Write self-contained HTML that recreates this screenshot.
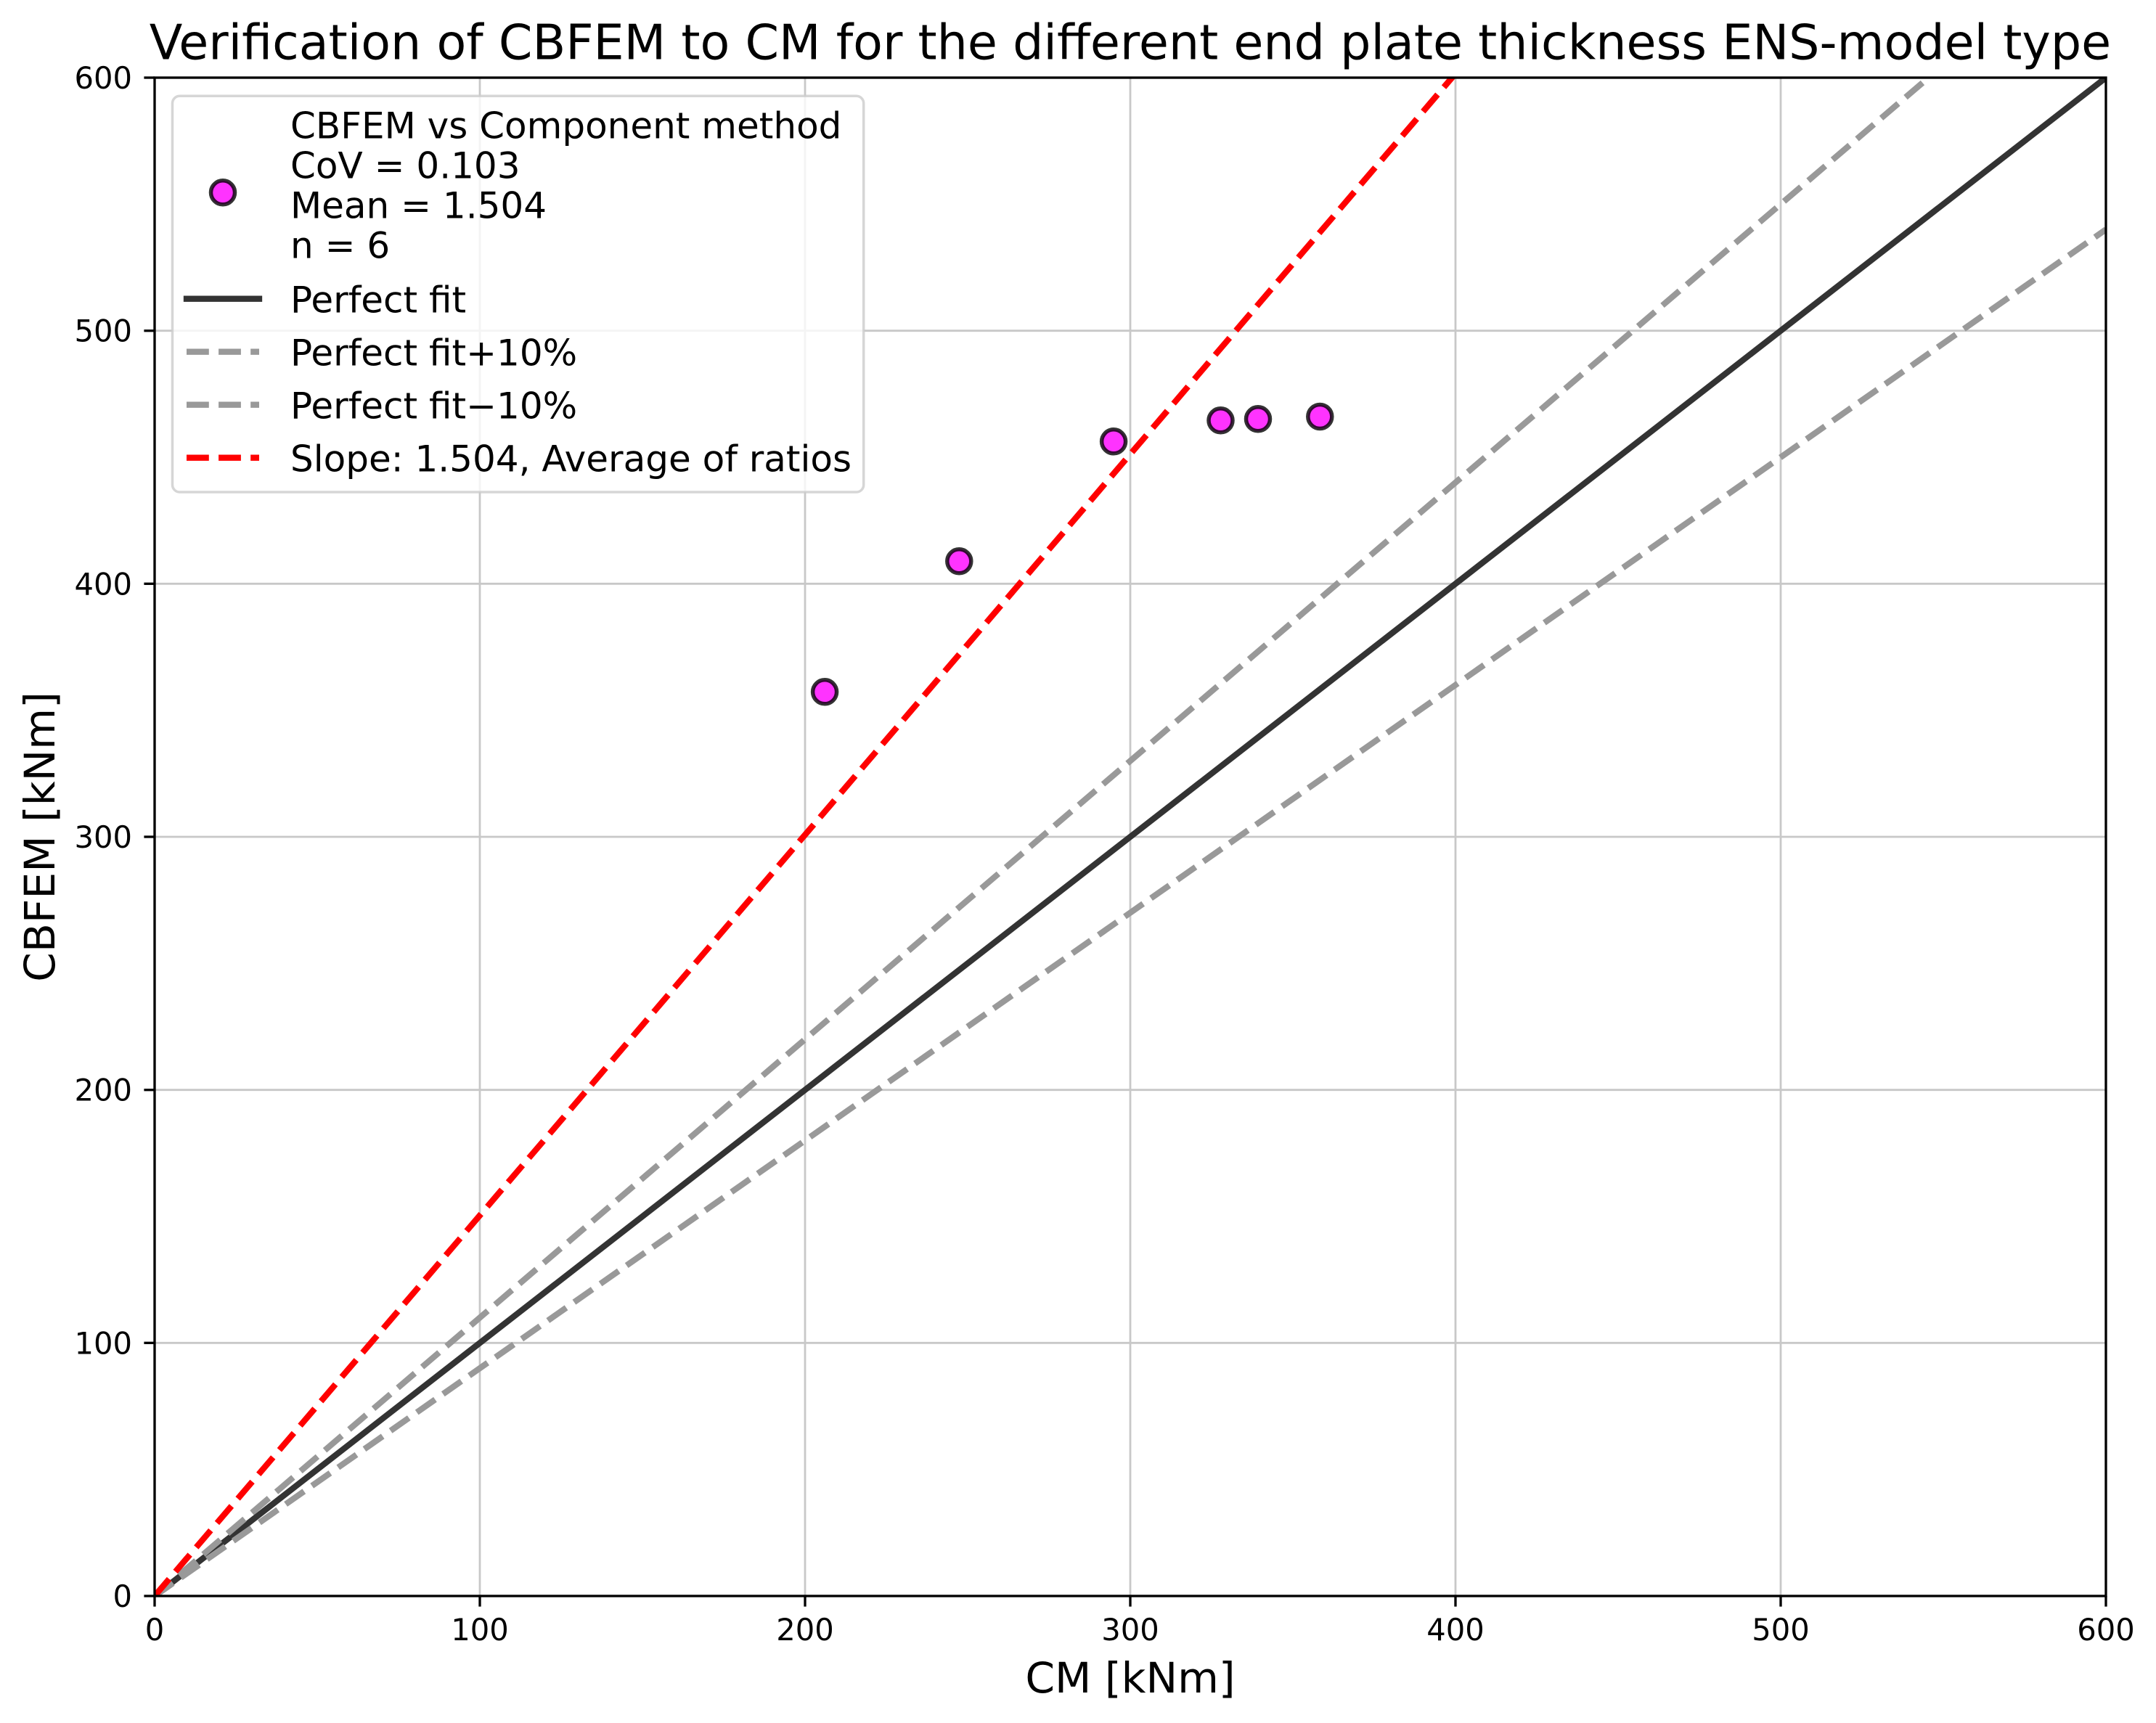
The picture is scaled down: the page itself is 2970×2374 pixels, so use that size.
<!DOCTYPE html>
<html>
<head>
<meta charset="utf-8">
<style>
  html, body { margin: 0; padding: 0; background: #ffffff; }
  svg { display: block; }
  text { font-family: "DejaVu Sans", "Liberation Sans", sans-serif; fill: #000; }
</style>
</head>
<body>
<svg width="2970" height="2374" viewBox="0 0 2970 2374" xmlns="http://www.w3.org/2000/svg">
  <rect x="0" y="0" width="2970" height="2374" fill="#ffffff"/>
  <defs>
    <clipPath id="ax">
      <rect x="213" y="107" width="2688" height="2092"/>
    </clipPath>
  </defs>

  <!-- Title -->
  <text x="1557" y="81.7" font-size="66.67" text-anchor="middle">Verification of CBFEM to CM for the different end plate thickness ENS-model type</text>

  <!-- Grid -->
  <g stroke="#c8c8c8" stroke-width="2.8">
    <line x1="661" y1="107" x2="661" y2="2199"/>
    <line x1="1109" y1="107" x2="1109" y2="2199"/>
    <line x1="1557" y1="107" x2="1557" y2="2199"/>
    <line x1="2005" y1="107" x2="2005" y2="2199"/>
    <line x1="2453" y1="107" x2="2453" y2="2199"/>
    <line x1="213" y1="1850.3" x2="2901" y2="1850.3"/>
    <line x1="213" y1="1501.7" x2="2901" y2="1501.7"/>
    <line x1="213" y1="1153" x2="2901" y2="1153"/>
    <line x1="213" y1="804.3" x2="2901" y2="804.3"/>
    <line x1="213" y1="455.7" x2="2901" y2="455.7"/>
  </g>

  <!-- Scatter points -->
  <g fill="#ff00ff" fill-opacity="0.8" stroke="#000000" stroke-opacity="0.8" stroke-width="5.5">
    <circle cx="1136.1" cy="953.3" r="16.5"/>
    <circle cx="1321.3" cy="773.3" r="16.5"/>
    <circle cx="1534.1" cy="608.3" r="16.5"/>
    <circle cx="1681.5" cy="579.3" r="16.5"/>
    <circle cx="1733" cy="577.3" r="16.5"/>
    <circle cx="1818.3" cy="574" r="16.5"/>
  </g>

  <!-- Lines -->
  <g clip-path="url(#ax)" fill="none">
    <line x1="213" y1="2199" x2="2901" y2="107" stroke="#333333" stroke-width="8.33" stroke-linecap="square"/>
    <line x1="213" y1="2199" x2="2901" y2="-102.2" stroke="#999999" stroke-width="8.33" stroke-dasharray="30.8 13.3"/>
    <line x1="213" y1="2199" x2="2901" y2="316.2" stroke="#999999" stroke-width="8.33" stroke-dasharray="30.8 13.3"/>
    <line x1="213" y1="2199" x2="2901" y2="-947.4" stroke="#ff0000" stroke-width="8.33" stroke-dasharray="30.8 13.3"/>
  </g>

  <!-- Spines -->
  <rect x="213" y="107" width="2688" height="2092" fill="none" stroke="#000" stroke-width="3.33"/>

  <!-- Ticks -->
  <g stroke="#000" stroke-width="3.33">
    <line x1="213" y1="2199" x2="213" y2="2213.6"/>
    <line x1="661" y1="2199" x2="661" y2="2213.6"/>
    <line x1="1109" y1="2199" x2="1109" y2="2213.6"/>
    <line x1="1557" y1="2199" x2="1557" y2="2213.6"/>
    <line x1="2005" y1="2199" x2="2005" y2="2213.6"/>
    <line x1="2453" y1="2199" x2="2453" y2="2213.6"/>
    <line x1="2901" y1="2199" x2="2901" y2="2213.6"/>

    <line x1="198.4" y1="2199" x2="213" y2="2199"/>
    <line x1="198.4" y1="1850.3" x2="213" y2="1850.3"/>
    <line x1="198.4" y1="1501.7" x2="213" y2="1501.7"/>
    <line x1="198.4" y1="1153" x2="213" y2="1153"/>
    <line x1="198.4" y1="804.3" x2="213" y2="804.3"/>
    <line x1="198.4" y1="455.7" x2="213" y2="455.7"/>
    <line x1="198.4" y1="107" x2="213" y2="107"/>
  </g>

  <!-- X tick labels -->
  <g font-size="41.67" text-anchor="middle">
    <text x="213" y="2260">0</text>
    <text x="661" y="2260">100</text>
    <text x="1109" y="2260">200</text>
    <text x="1557" y="2260">300</text>
    <text x="2005" y="2260">400</text>
    <text x="2453" y="2260">500</text>
    <text x="2901" y="2260">600</text>
  </g>

  <!-- Y tick labels -->
  <g font-size="41.67" text-anchor="end">
    <text x="182" y="2214">0</text>
    <text x="182" y="1865.3">100</text>
    <text x="182" y="1516.7">200</text>
    <text x="182" y="1168">300</text>
    <text x="182" y="819.3">400</text>
    <text x="182" y="470.7">500</text>
    <text x="182" y="122">600</text>
  </g>

  <!-- Axis labels -->
  <text x="1557" y="2332" font-size="58.33" text-anchor="middle">CM [kNm]</text>
  <text x="75" y="1153" font-size="58.33" text-anchor="middle" transform="rotate(-90 75 1153)">CBFEM [kNm]</text>

  <!-- Legend -->
  <rect x="237.5" y="132.3" width="952.2" height="545.7" rx="10" ry="10" fill="#ffffff" fill-opacity="0.8" stroke="#cccccc" stroke-opacity="0.8" stroke-width="3.5"/>

  <circle cx="307" cy="265.3" r="16.5" fill="#ff00ff" fill-opacity="0.8" stroke="#000000" stroke-opacity="0.8" stroke-width="5.5"/>
  <g font-size="50">
    <text x="400" y="190.3">CBFEM vs Component method</text>
    <text x="400" y="245.3">CoV = 0.103</text>
    <text x="400" y="300.3">Mean = 1.504</text>
    <text x="400" y="355.3">n = 6</text>
  </g>

  <line x1="257" y1="411.7" x2="357" y2="411.7" stroke="#333333" stroke-width="8.33" stroke-linecap="square"/>
  <text x="400" y="430.7" font-size="50">Perfect fit</text>

  <line x1="257" y1="484.7" x2="357" y2="484.7" stroke="#999999" stroke-width="8.33" stroke-dasharray="30.8 13.3"/>
  <text x="400" y="503.7" font-size="50">Perfect fit+10%</text>

  <line x1="257" y1="557.7" x2="357" y2="557.7" stroke="#999999" stroke-width="8.33" stroke-dasharray="30.8 13.3"/>
  <text x="400" y="576.7" font-size="50">Perfect fit−10%</text>

  <line x1="257" y1="630.7" x2="357" y2="630.7" stroke="#ff0000" stroke-width="8.33" stroke-dasharray="30.8 13.3"/>
  <text x="400" y="649.7" font-size="50">Slope: 1.504, Average of ratios</text>
</svg>
</body>
</html>
